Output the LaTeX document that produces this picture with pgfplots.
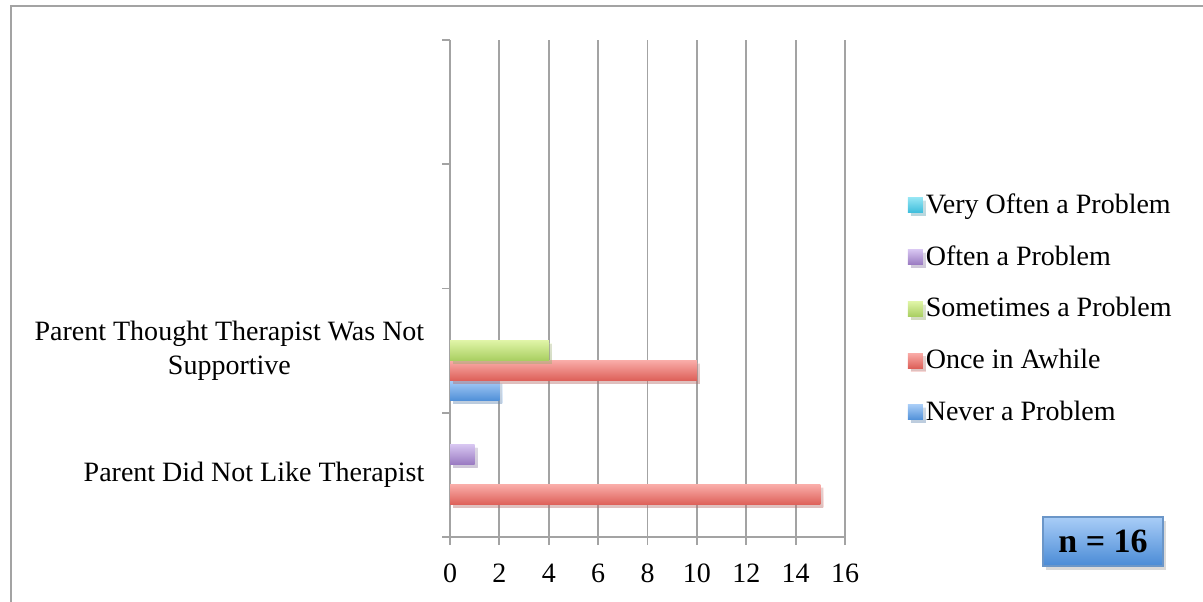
\documentclass[border=0pt]{standalone}
\usepackage{pgfplots}
\pgfplotsset{compat=1.18}
\usepackage{fontspec}
\setmainfont{Liberation Serif}
\usetikzlibrary{shadows}

\definecolor{gridgray}{HTML}{A3A3A3}
\definecolor{nevertop}{HTML}{A6CBF6}
\definecolor{neverbot}{HTML}{4F8FD8}
\definecolor{oncetop}{HTML}{F9ABA7}
\definecolor{oncebot}{HTML}{DD5F58}
\definecolor{sometop}{HTML}{DFF4A6}
\definecolor{somebot}{HTML}{A8CE60}
\definecolor{oftentop}{HTML}{D6C4F0}
\definecolor{oftenbot}{HTML}{9878C0}
\definecolor{verytop}{HTML}{92E4F3}
\definecolor{verybot}{HTML}{3BBCDB}
\definecolor{boxtop}{HTML}{A9CDF7}
\definecolor{boxbot}{HTML}{4A8BD6}
\definecolor{boxline}{HTML}{6B96C8}

\pgfplotsset{
  barshadow/.style={drop shadow={opacity=0.25, shadow xshift=1.5pt, shadow yshift=-1.5pt}},
  never/.style={top color=nevertop, bottom color=neverbot},
  once/.style={top color=oncetop, bottom color=oncebot},
  some/.style={top color=sometop, bottom color=somebot},
  often/.style={top color=oftentop, bottom color=oftenbot},
  very/.style={top color=verytop, bottom color=verybot},
}

\begin{document}
\fontsize{14}{17}\selectfont
\begin{tikzpicture}
\useasboundingbox (0,0) rectangle (601.5pt,300.5pt);
% outer frame (only left and top edges visible)
\draw[gridgray, line width=1pt] (5.5pt,-2pt) -- (5.5pt,297.5pt) -- (604pt,297.5pt);

\begin{axis}[
  at={(225pt,32pt)}, anchor=south west,
  scale only axis, width=197.5pt, height=248.5pt,
  xbar, bar width=10pt,
  xmin=0, xmax=16, ymin=-0.5, ymax=3.5,
  axis x line*=bottom, axis y line*=left,
  axis line style={gridgray, line width=0.95pt},
  tick style={gridgray, line width=0.95pt},
  tick align=outside, major tick length=4pt,
  xtick={0,2,...,16},
  xmajorgrids, grid style={gridgray, line width=0.95pt},
  ytick={-0.5,0.5,1.5,2.5,3.5}, yticklabels={},
  extra y ticks={0,1},
  extra y tick labels={Parent Did Not Like Therapist,{Parent Thought Therapist Was Not\\Supportive}},
  extra y tick style={major tick length=0pt, grid=none,
    yticklabel style={align=center, xshift=-8pt}},
  /pgf/number format/assume math mode=true,
  xticklabel style={yshift=-4.5pt},
  legend cell align=left,
  reverse legend,
  legend style={draw=none, fill=none, at={(1.158,0.698)}, anchor=north west,
    row sep=11pt, inner sep=0pt,
    nodes={inner sep=1.5pt, xshift=1.5pt}},
  legend image code/.code={\path[#1, draw=none] (0pt,-3.75pt) rectangle (7.5pt,3.75pt);},
  every axis plot/.append style={draw=none, forget plot, barshadow},
]
% Never a Problem
\addplot[never, bar shift=-20pt] coordinates {(2,1)};
% Once in Awhile
\addplot[once, bar shift=-10pt] coordinates {(15,0)};
\addplot[once, bar shift=-10pt] coordinates {(10,1)};
% Sometimes a Problem
\addplot[some, bar shift=0pt] coordinates {(4,1)};
% Often a Problem
\addplot[often, bar shift=10pt] coordinates {(1,0)};
% Very Often a Problem: 0 in both categories

\addlegendimage{never}\addlegendentry{Never a Problem}
\addlegendimage{once}\addlegendentry{Once in Awhile}
\addlegendimage{some}\addlegendentry{Sometimes a Problem}
\addlegendimage{often}\addlegendentry{Often a Problem}
\addlegendimage{very}\addlegendentry{Very Often a Problem}
\end{axis}

\node[draw=boxline, line width=0.8pt, top color=boxtop, bottom color=boxbot,
  minimum width=60pt, minimum height=24.5pt, inner sep=0pt,
  drop shadow={opacity=0.3, shadow xshift=1.5pt, shadow yshift=-2pt},
  font=\fontsize{17}{20}\selectfont\bfseries]
  at (551.5pt,29.75pt) {n = 16};
\end{tikzpicture}
\end{document}
